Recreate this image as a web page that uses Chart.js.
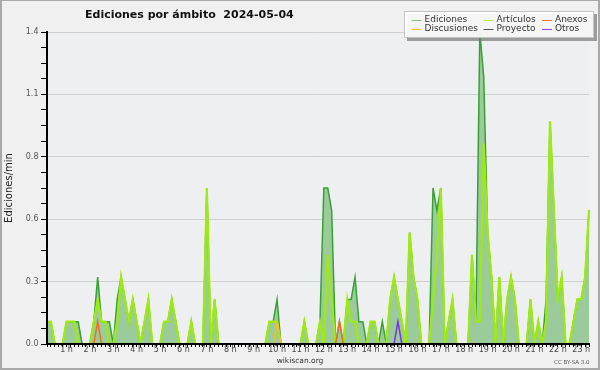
<!DOCTYPE html>
<html><head><meta charset="utf-8">
<script src="https://cdn.jsdelivr.net/npm/chart.js@4/dist/chart.umd.min.js"></script>
<style>html,body{margin:0;padding:0;background:#f0f0f0;}canvas{display:block;}</style>
</head><body>
<canvas id="c" width="600" height="370"></canvas>
<script>
// ---- data (10-minute bins, edits per minute) ----
const hourLabels = ['1 h','2 h','3 h','4 h','5 h','6 h','7 h','8 h','9 h','10 h','11 h','12 h',
  '13 h','14 h','15 h','16 h','17 h','18 h','19 h','20 h','21 h','22 h','23 h'];

const ediciones = [
  0.1,0.1,0,0,0,0.1,0.1,0.1,0.1,0,0,0,
  0.1,0.3,0.1,0.1,0.1,0,0.2,0.3,0.2,0.1,0.2,0.1,
  0,0.1,0.2,0,0,0,0.1,0.1,0.2,0.1,0,0,
  0,0.1,0,0,0,0.7,0,0.2,0,0,0,0,
  0,0,0,0,0,0,0,0,0,0.1,0.1,0.2,
  0,0,0,0,0,0,0.1,0,0,0,0.1,0.7,
  0.7,0.6,0,0.1,0,0.2,0.2,0.3,0.1,0.1,0,0.1,
  0.1,0,0.1,0,0.2,0.3,0.2,0.1,0,0.5,0.3,0.2,
  0,0,0,0.7,0.6,0.7,0,0.1,0.2,0,0,0,
  0,0.4,0.1,1.4,1.2,0.5,0.3,0,0.3,0,0.2,0.3,
  0.2,0,0,0,0.2,0,0.1,0,0.2,1.0,0.6,0.2,
  0.3,0,0,0.1,0.2,0.2,0.3,0.6
];
const articulos = [
  0.1,0.1,0,0,0,0.1,0.1,0.1,0,0,0,0,
  0.1,0.2,0.1,0.1,0,0,0.1,0.3,0.2,0.1,0.2,0.1,
  0,0.1,0.2,0,0,0,0.1,0.1,0.2,0.1,0,0,
  0,0.1,0,0,0,0.7,0,0.2,0,0,0,0,
  0,0,0,0,0,0,0,0,0,0.1,0.1,0.1,
  0,0,0,0,0,0,0.1,0,0,0,0.1,0,
  0.4,0.2,0,0,0,0.2,0.1,0.1,0,0,0,0.1,
  0.1,0,0,0,0.2,0.3,0.2,0.1,0,0.5,0.3,0.2,
  0,0,0,0.2,0.4,0.7,0,0.1,0.2,0,0,0,
  0,0.4,0.1,0.1,0.9,0.5,0.3,0,0.3,0,0.2,0.3,
  0.2,0,0,0,0.2,0,0.1,0,0.1,1.0,0.6,0.2,
  0.3,0,0,0.1,0.2,0.2,0.3,0.6
];
const anexos = [
  0,0,0,0,0,0,0,0,0,0,0,0,
  0,0.1,0,0,0,0,0,0,0,0,0,0,
  0,0,0,0,0,0,0,0,0,0,0,0,
  0,0,0,0,0,0,0,0,0,0,0,0,
  0,0,0,0,0,0,0,0,0,0,0,0,
  0,0,0,0,0,0,0,0,0,0,0,0,
  0,0,0,0.1,0,0,0,0,0,0,0,0,
  0,0,0,0,0,0,0,0,0,0,0,0,
  0,0,0,0,0,0,0,0,0,0,0,0,
  0,0,0,0,0,0,0,0,0,0,0,0,
  0,0,0,0,0,0,0,0,0,0,0,0,
  0,0,0,0,0,0,0,0
];
const discusiones = [
  0,0,0,0,0,0,0,0,0,0,0,0,
  0,0,0,0,0,0,0,0,0,0,0,0,
  0,0,0,0,0,0,0,0,0,0,0,0,
  0,0,0,0,0,0,0,0,0,0,0,0,
  0,0,0,0,0,0,0,0,0,0,0,0.1,
  0,0,0,0,0,0,0,0,0,0,0,0,
  0,0,0,0,0,0,0,0,0,0,0,0,
  0,0,0,0,0,0,0,0,0,0,0,0,
  0,0,0,0,0,0,0,0,0,0,0,0,
  0,0,0,0,0,0,0,0,0,0,0,0,
  0,0,0,0,0,0,0,0,0,0,0,0,
  0,0,0,0,0,0,0,0
];
const proyecto = [
  0,0,0,0,0,0,0,0,0,0,0,0,
  0,0,0,0,0,0,0,0,0,0,0,0,
  0,0,0,0,0,0,0,0,0,0,0,0,
  0,0,0,0,0,0,0,0,0,0,0,0,
  0,0,0,0,0,0,0,0,0,0,0,0,
  0,0,0,0,0,0,0,0,0,0,0,0,
  0,0,0,0,0,0,0,0,0,0,0,0,
  0,0,0,0,0,0,0,0,0,0,0,0,
  0,0,0,0,0,0,0,0,0,0,0,0,
  0,0,0,0,0,0,0,0,0,0,0,0,
  0,0,0,0,0,0,0,0,0,0,0,0,
  0,0,0,0,0,0,0,0
];
const otros = [
  0,0,0,0,0,0,0,0,0,0,0,0,
  0,0,0,0,0,0,0,0,0,0,0,0,
  0,0,0,0,0,0,0,0,0,0,0,0,
  0,0,0,0,0,0,0,0,0,0,0,0,
  0,0,0,0,0,0,0,0,0,0,0,0,
  0,0,0,0,0,0,0,0,0,0,0,0,
  0,0,0,0,0,0,0,0,0,0,0,0,
  0,0,0,0,0,0,0.1,0,0,0,0,0,
  0,0,0,0,0,0,0,0,0,0,0,0,
  0,0,0,0,0,0,0,0,0,0,0,0,
  0,0,0,0,0,0,0,0,0,0,0,0,
  0,0,0,0,0,0,0,0
];
const yTickValues = [0,0.07,0.14,0.21,0.28,0.35,0.42,0.49,0.56,0.63,0.7,0.77,0.84,0.91,0.98,1.05,1.12,1.19,1.26,1.33,1.4];
const yTickLabels = ['0.0','0.3','0.6','0.8','1.1','1.4'];

// category labels: one per 10-minute bin, hour label on each full hour
const categories = ediciones.map((_, i) => ((i + 1) % 6 === 0) ? hourLabels[(i + 1) / 6 - 1] : '');

const FONT = 'DejaVu Sans';

const bgPlugin = {
  id: 'bg',
  beforeDraw(chart) {
    const c = chart.ctx, a = chart.chartArea;
    c.save();
    c.fillStyle = '#f0f0f0';
    c.fillRect(0, 0, chart.width, chart.height);
    c.fillStyle = '#eeeff1';
    c.fillRect(a.left, a.top, a.right - a.left, a.bottom - a.top);
    c.restore();
  }
};

const legendItems = [
  {text: 'Ediciones', color: '#7cc57c', x: 424.5, y: 19.5},
  {text: 'Artículos', color: '#b8ec4a', x: 496.5, y: 19.5},
  {text: 'Anexos', color: '#ee7a3a', x: 555, y: 19.5},
  {text: 'Discusiones', color: '#f2c53a', x: 424.5, y: 29},
  {text: 'Proyecto', color: '#555555', x: 496.5, y: 29},
  {text: 'Otros', color: '#8a44ee', x: 555, y: 29}
];

const overlayPlugin = {
  id: 'overlay',
  afterDraw(chart) {
    const c = chart.ctx;
    c.save();
    // title
    c.fillStyle = '#111';
    c.font = 'bold 11px "' + FONT + '"';
    c.textBaseline = 'alphabetic';
    c.textAlign = 'left';
    c.fillText('Ediciones por ámbito  2024-05-04', 85, 18);
    // legend
    c.fillStyle = 'rgba(120,120,120,0.7)';
    c.fillRect(407, 14, 190, 27);
    c.fillStyle = 'rgba(255,255,255,0.9)';
    c.fillRect(404, 11, 190, 27);
    c.strokeStyle = '#c4c4c4';
    c.lineWidth = 1;
    c.strokeRect(404.5, 11.5, 189, 26);
    c.font = '9px "' + FONT + '"';
    c.textBaseline = 'middle';
    legendItems.forEach(it => {
      c.strokeStyle = it.color;
      c.lineWidth = 1;
      c.beginPath();
      c.moveTo(it.x - 13, Math.round(it.y) + 0.5);
      c.lineTo(it.x - 3, Math.round(it.y) + 0.5);
      c.stroke();
      c.fillStyle = '#333';
      c.fillText(it.text, it.x, it.y);
    });
    // footer
    c.fillStyle = '#333';
    c.font = '7.5px "' + FONT + '"';
    c.textAlign = 'center';
    c.fillText('wikiscan.org', 300, 361.5);
    c.fillStyle = '#555';
    c.font = '5.5px "' + FONT + '"';
    c.textAlign = 'right';
    c.fillText('CC BY-SA 3.0', 589.5, 362.5);
    // frame
    c.fillStyle = '#a9a9a9';
    c.fillRect(0, 0, 600, 1);
    c.fillRect(0, 0, 2, 370);
    c.fillRect(598, 0, 2, 370);
    c.fillRect(0, 368, 600, 2);
    c.restore();
  }
};

new Chart(document.getElementById('c').getContext('2d'), {
  type: 'line',
  data: {
    labels: categories,
    datasets: [
      {label: 'Ediciones', data: ediciones, borderColor: '#36a236', backgroundColor: '#9bcb9b', fill: 'origin', borderWidth: 1.5, order: 10},
      {label: 'Artículos', data: articulos, borderColor: '#9fea10', borderWidth: 2.2, fill: false, order: 5},
      {label: 'Proyecto', data: proyecto, borderColor: '#555555', borderWidth: 1.2, fill: false, order: 4},
      {label: 'Discusiones', data: discusiones, borderColor: '#f0c020', borderWidth: 1.5, fill: false, order: 3},
      {label: 'Anexos', data: anexos, borderColor: '#ee6f22', borderWidth: 1.5, fill: false, order: 2},
      {label: 'Otros', data: otros, borderColor: '#7a33e6', borderWidth: 1.5, fill: false, order: 1}
    ]
  },
  options: {
    responsive: false,
    animation: false,
    devicePixelRatio: 1,
    elements: {point: {radius: 0, hoverRadius: 0}, line: {tension: 0}},
    layout: {padding: {left: 0, right: 11, top: 32, bottom: 0}},
    plugins: {legend: {display: false}, tooltip: {enabled: false}, title: {display: false}},
    scales: {
      x: {
        type: 'category',
        offset: false,
        grid: {display: true, drawOnChartArea: false, drawTicks: true, tickLength: 3, tickColor: '#000', tickWidth: 1, offset: false, z: 1},
        border: {display: true, color: '#000', width: 2, z: 1},
        ticks: {autoSkip: false, maxRotation: 0, minRotation: 0, padding: -1, color: '#444',
                font: {family: FONT, size: 8, lineHeight: 1}},
        afterFit(s) { s.height = 26; }
      },
      y: {
        min: 0, max: 1.4,
        afterBuildTicks(s) { s.ticks = yTickValues.map(v => ({value: v})); },
        grid: {
          color: (c) => (c.index % 4 === 0 && c.index > 0) ? '#cfcfcf' : 'rgba(0,0,0,0)',
          lineWidth: 1, drawTicks: true, tickLength: 6, tickColor: '#000', tickWidth: 1
        },
        border: {display: true, color: '#000', width: 2, z: 1},
        ticks: {autoSkip: false, padding: 2.5, color: '#555', font: {family: FONT, size: 8},
                callback: (v, i) => (i % 4 === 0) ? yTickLabels[i / 4] : ''},
        title: {display: true, text: 'Ediciones/min', color: '#222', font: {family: FONT, size: 10}, padding: {top: 3, bottom: 0}},
        afterFit(s) { s.width = 47; }
      }
    }
  },
  plugins: [bgPlugin, overlayPlugin]
});
</script>
</body></html>
